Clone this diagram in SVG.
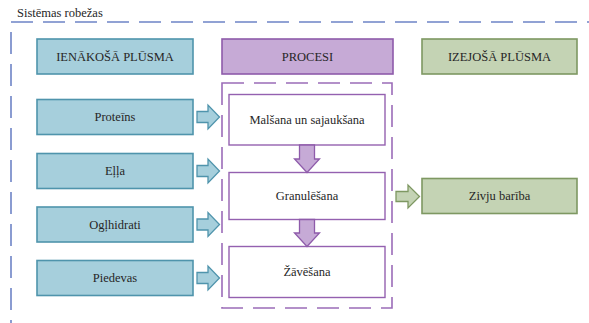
<svg xmlns="http://www.w3.org/2000/svg" width="589" height="323" viewBox="0 0 589 323">
<style>
text{font-size:12.5px;fill:#262626;text-anchor:middle}
.lbl{text-anchor:start}
.blue{fill:#A6CFDC;stroke:#4F94AC;stroke-width:1.6}
.purp{fill:#C6AAD6;stroke:#8E5BAA;stroke-width:1.6}
.green{fill:#C4D3B4;stroke:#7E9862;stroke-width:1.6}
.proc{fill:#FFFFFF;stroke:#9461B0;stroke-width:1.4}
.outer{fill:none;stroke:#6E84C6;stroke-width:1.6;stroke-dasharray:22 10}
.inner{fill:none;stroke:#9B6CB8;stroke-width:1.6;stroke-dasharray:22 10}
.ab{fill:#A6CFDC;stroke:#4F94AC;stroke-width:1.3}
.ap{fill:#C6AAD6;stroke:#8E5BAA;stroke-width:1.3}
.ag{fill:#C4D3B4;stroke:#7E9862;stroke-width:1.3}
</style>
<rect width="589" height="323" fill="#FFFFFF"/>
<g font-family="Liberation Serif, serif">
<g id="boundary">
<rect class="outer" x="11" y="22" width="620" height="340"/>
<text class="lbl" x="17" y="17" font-family="Liberation Serif, serif">Sistēmas robežas</text>
</g>
<g id="process-boundary">
<rect class="inner" x="222" y="83" width="170" height="225"/>
</g>
<g id="hdr-in"><rect class="blue" x="37" y="39" width="156" height="35"/><text x="115" y="61" font-family="Liberation Serif, serif">IENĀKOŠĀ PLŪSMA</text></g>
<g id="hdr-proc"><rect class="purp" x="222" y="39" width="171" height="35"/><text x="307.5" y="61" font-family="Liberation Serif, serif">PROCESI</text></g>
<g id="hdr-out"><rect class="green" x="422" y="39" width="155" height="35"/><text x="499.5" y="61" font-family="Liberation Serif, serif">IZEJOŠĀ PLŪSMA</text></g>
<g id="in-proteins"><rect class="blue" x="37" y="99.5" width="156" height="35"/><text x="115" y="121.3" font-family="Liberation Serif, serif">Proteīns</text></g>
<g id="in-ella"><rect class="blue" x="37" y="153.5" width="156" height="35"/><text x="115" y="175.3" font-family="Liberation Serif, serif">Eļļa</text></g>
<g id="in-oglhidrati"><rect class="blue" x="37" y="207" width="156" height="35"/><text x="115" y="228.8" font-family="Liberation Serif, serif">Ogļhidrati</text></g>
<g id="in-piedevas"><rect class="blue" x="37" y="260.5" width="156" height="35"/><text x="115" y="282.3" font-family="Liberation Serif, serif">Piedevas</text></g>
<g id="p-malsana"><rect class="proc" x="229" y="94.5" width="156" height="50.5"/><text x="307" y="124" font-family="Liberation Serif, serif">Malšana un sajaukšana</text></g>
<g id="p-granulesana"><rect class="proc" x="229" y="172.5" width="156" height="47"/><text x="307" y="200.3" font-family="Liberation Serif, serif">Granulēšana</text></g>
<g id="p-zavesana"><rect class="proc" x="229" y="246.5" width="156" height="51"/><text x="307" y="276.3" font-family="Liberation Serif, serif">Žāvēšana</text></g>
<g id="out-zivju"><rect class="green" x="422" y="178.5" width="155" height="35"/><text x="499.5" y="200.3" font-family="Liberation Serif, serif">Zivju barība</text></g>
</g>
<g id="connectors">
<path class="ab" d="M197,111.5 H208 V105 L219.5,117 L208,129 V122.5 H197 Z"/>
<path class="ab" d="M197,165.5 H208 V159 L219.5,171 L208,183 V176.5 H197 Z"/>
<path class="ab" d="M197,219 H208 V212.5 L219.5,224.5 L208,236.5 V230 H197 Z"/>
<path class="ab" d="M197,272.5 H208 V266 L219.5,278 L208,290 V283.5 H197 Z"/>
<path class="ap" d="M299.5,145 H314.5 V159 H319.5 L307,172.5 L294.5,159 H299.5 Z"/>
<path class="ap" d="M299.5,219.5 H314.5 V233 H319.5 L307,246.5 L294.5,233 H299.5 Z"/>
<path class="ag" d="M396,191.5 H408 V185 L419.5,196.5 L408,208 V201.5 H396 Z"/>
</g>
</svg>
